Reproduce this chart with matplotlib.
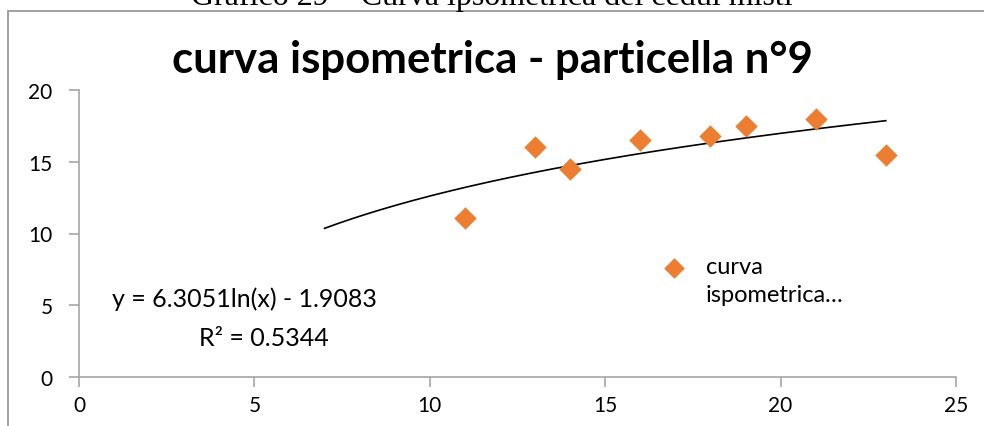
import numpy as np
import matplotlib.pyplot as plt
from matplotlib.patches import Rectangle
from matplotlib.legend_handler import HandlerPathCollection

# dati
diametro = [11, 13, 14, 16, 18, 19, 21, 23]
altezza = [11.1, 16.0, 14.5, 16.5, 16.8, 17.5, 18.0, 15.5]
# coefficienti della linea di tendenza logaritmica (dall'etichetta)
coef_a = 6.3051
coef_b = -1.9083
r2 = 0.5344
trend_da, trend_a = 7, 23

plt.rcParams['font.family'] = ['Lato', 'DejaVu Sans']

fig = plt.figure(figsize=(9.84, 4.27), dpi=100)
W, H = 984, 427

# didascalia tagliata in alto
fig.text(0.5, 1 - 5 / H, 'Grafico 29 – Curva ipsometrica dei cedui misti',
         family='Liberation Serif', fontsize=23, ha='center', va='baseline')

# bordo dell'area grafico
fig.patches.append(Rectangle((8 / W, -0.1), 1.2, 1 - 12 / H + 0.1,
                             transform=fig.transFigure, fill=False,
                             edgecolor='#9a9a9a', linewidth=1.3))

ax = fig.add_axes([79 / W, 1 - 378 / H, (956 - 79) / W, (378 - 91) / H])

sc = ax.scatter(diametro, altezza, marker='D', s=130, color='#ED7D31',
                linewidths=0, zorder=3, label='curva\nispometrica…')

xx = np.linspace(trend_da, trend_a, 200)
ax.plot(xx, coef_a * np.log(xx) + coef_b, color='black', linewidth=1.2)

ax.set_xlim(0, 25)
ax.set_ylim(0, 20)
ax.set_xticks([0, 5, 10, 15, 20, 25])
ax.set_yticks([0, 5, 10, 15, 20])

for s in ['top', 'right']:
    ax.spines[s].set_visible(False)
for s in ['left', 'bottom']:
    ax.spines[s].set_color('#a6a6a6')
    ax.spines[s].set_linewidth(1.2)
ax.tick_params(colors='#a6a6a6', labelcolor='black', labelsize=15,
               length=7, width=1.2, direction='out')
ax.tick_params(axis='y', pad=12)
ax.tick_params(axis='x', pad=6)

fig.text(0.5, 1 - 60 / H, 'curva ispometrica - particella n°9',
         fontsize=31.5, fontweight='bold', ha='center', va='center')

ax.text(4.73, 5.5, 'y = 6.3051ln(x) - 1.9083', fontsize=18,
        ha='center', va='center')
ax.text(5.27, 2.75, 'R² = %.4f' % r2, fontsize=18,
        ha='center', va='center')

leg = ax.legend(handler_map={sc: HandlerPathCollection(yoffsets=[1.25],
                                                       sizes=[110])},
                loc='upper left', bbox_to_anchor=(662 / W, 1 - 257 / H),
                bbox_transform=fig.transFigure, frameon=False, fontsize=17,
                borderpad=0, borderaxespad=0, handlelength=1.0,
                handletextpad=0.86, scatterpoints=1)
leg.get_texts()[0].set_linespacing(1.4)

fig.savefig('out.png', dpi=100)
